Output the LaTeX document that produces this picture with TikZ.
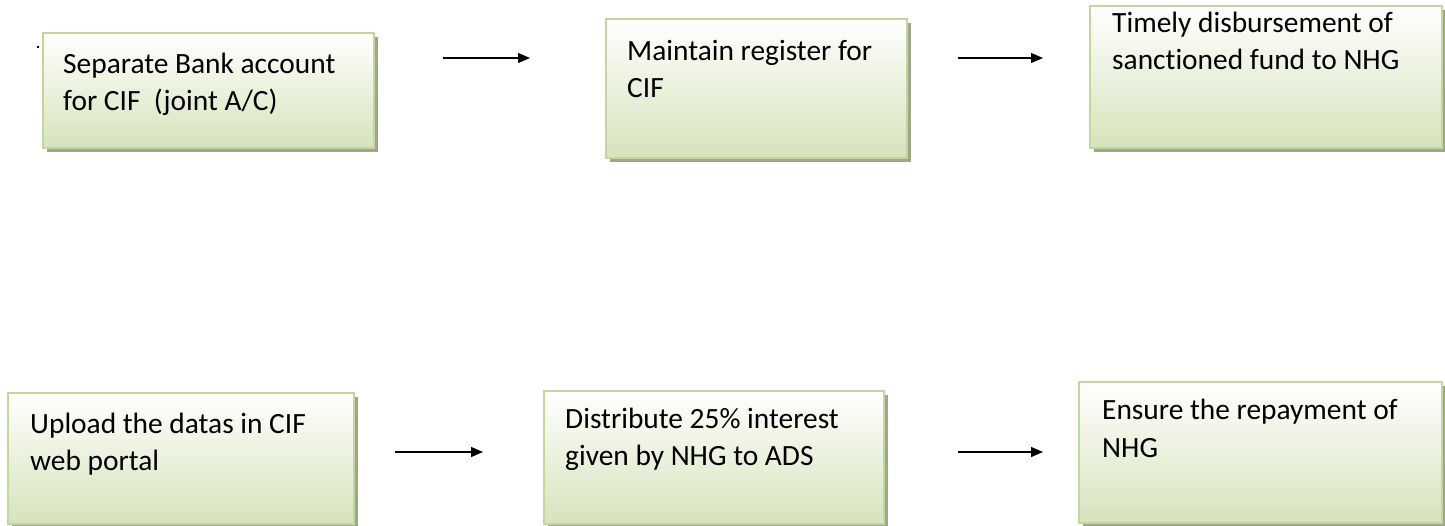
\documentclass[tikz,border=0pt]{standalone}
\usepackage{fontspec}
\setmainfont{Carlito}[Ligatures=NoCommon]
\usetikzlibrary{shadows,arrows.meta}
\definecolor{boxedge}{HTML}{C3D69B}
\definecolor{boxfill}{HTML}{D6E3BC}
\definecolor{boxshadow}{HTML}{9DA88A}
\tikzset{
  box/.style={rectangle, draw=boxedge, line width=2pt, top color=white, bottom color=boxfill,
    anchor=north west, inner sep=0pt,
    general shadow={fill=boxshadow, shadow xshift=4pt, shadow yshift=-4pt}},
  % anchored at the baseline of the LAST line
  boxtext/.style={anchor=base west, inner sep=0pt, align=left,
    font=\fontsize{29.4}{37.5}\selectfont},
  flow/.style={line width=1.3pt, -{Triangle[length=12pt,width=10pt]}}
}
\begin{document}
\begin{tikzpicture}[x=1pt,y=-1pt]
\useasboundingbox (0,0) rectangle (1445,525);
% row 1
\node[box, minimum width=331pt, minimum height=115pt] (b1) at (42,32) {};
\node[box, minimum width=301pt, minimum height=139pt] (b2) at (605,18) {};
\node[box, minimum width=352pt, minimum height=142pt] (b3) at (1089,5) {};
% row 2
\node[box, minimum width=346pt, minimum height=131pt] (b4) at (7,392) {};
\node[box, minimum width=340pt, minimum height=133pt] (b5) at (543,390) {};
\node[box, minimum width=363pt, minimum height=141pt] (b6) at (1078,381) {};
% texts
\node[boxtext] (t1) at (63,110.5) {Separate Bank account\\for CIF~ (joint A/C)};
\node[boxtext] (t2) at (627,97.5) {Maintain register for\\CIF};
\node[boxtext] (t3) at (1112,69.5) {Timely disbursement of\\sanctioned fund to NHG};
\node[boxtext] (t4) at (30,470.5) {Upload the datas in CIF\\web portal};
\node[boxtext] (t5) at (565,465.5) {Distribute 25\% interest\\given by NHG to ADS};
\node[boxtext] (t6) at (1102,457) {Ensure the repayment of\\NHG};
% stray mark
\fill (37,46) rectangle (39,48);
% arrows
\coordinate (a1s) at (443,58); \coordinate (a1e) at (530,58);
\coordinate (a2s) at (958,58); \coordinate (a2e) at (1043,58);
\coordinate (a3s) at (395,452); \coordinate (a3e) at (483,452);
\coordinate (a4s) at (958,452); \coordinate (a4e) at (1043,452);
\draw[flow] (a1s) -- (a1e);
\draw[flow] (a2s) -- (a2e);
\draw[flow] (a3s) -- (a3e);
\draw[flow] (a4s) -- (a4e);
\end{tikzpicture}
\end{document}
